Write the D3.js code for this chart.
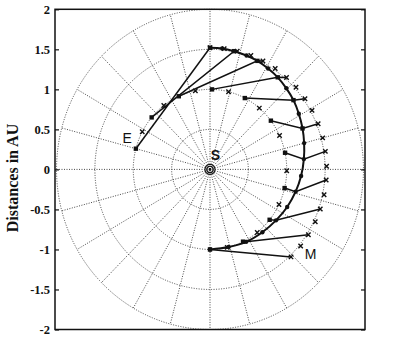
<!DOCTYPE html>
<html>
<head>
<meta charset="utf-8">
<script src="https://cdn.jsdelivr.net/npm/d3@7"></script>
<style>
    body { margin: 0; background: #fff; }
</style>
</head>
<body>
<div class="container"></div>
<script>
const width = 402;
const height = 350;
const box = { left: 55, right: 365, top: 9.3, bottom: 329.5 };

// ticks and polar grid
const yTicks = [-2, -1.5, -1, -0.5, 0, 0.5, 1, 1.5, 2];
const gridRadii = [0.5, 1, 1.5, 2];
const spokeAngles = d3.range(0, 360, 15);

// positions every half step (angles in degrees), from departure to arrival
const earthAng = [165, 152, 139.5, 127, 114, 101, 88.5, 76, 63, 50, 37.5, 25, 12, -1, -13.5, -26, -39, -52, -64.5, -77, -90];
const earthR = 1.0;
const marsAng = [90, 83, 76.5, 69.5, 63, 56, 49, 42.5, 35.5, 29, 22, 15, 8.5, 1.5, -5, -12, -19, -25.5, -32.5, -39, -46];
const marsR = 1.52;
const craftAng = [90, 84, 78, 71.5, 65.5, 59, 52.5, 45.5, 38.5, 31, 23, 15, 6, -4, -14, -25, -36.5, -49, -62.5, -76, -90];
const craftR = [1.52, 1.52, 1.51, 1.5, 1.49, 1.47, 1.45, 1.42, 1.39, 1.35, 1.31, 1.27, 1.23, 1.19, 1.15, 1.11, 1.07, 1.04, 1.02, 1.0, 1.0];

const labels = [
    { t: 'E', x: -1.08, y: 0.39 },
    { t: 'M', x: 1.31, y: -1.06 },
    { t: 'S', x: 0.07, y: 0.18 }
];

const serif = "'Liberation Serif', 'DejaVu Serif', serif";
const sans = "'Liberation Sans', Arial, sans-serif";

const xs = d3.scaleLinear().domain([-2.02, 2.02]).range([box.left, box.right]);
const ys = d3.scaleLinear().domain([-2, 2]).range([box.bottom, box.top]);

const rad = a => a * Math.PI / 180;
const polar = (a, r) => [xs(r * Math.cos(rad(a))), ys(r * Math.sin(rad(a)))];

const earth = earthAng.map(a => polar(a, earthR));
const mars = marsAng.map(a => polar(a, marsR));
const craft = craftAng.map((a, i) => polar(a, craftR[i]));

const svg = d3.select('.container')
    .append('svg')
    .attr('width', width)
    .attr('height', height);

// grid
const grid = svg.append('g')
    .attr('fill', 'none')
    .attr('stroke', '#333')
    .attr('stroke-width', 0.9)
    .attr('stroke-dasharray', '1,1.5');

grid.selectAll('ellipse')
    .data(gridRadii)
    .join('ellipse')
    .attr('cx', xs(0))
    .attr('cy', ys(0))
    .attr('rx', d => xs(d) - xs(0))
    .attr('ry', d => ys(0) - ys(d));

grid.selectAll('line')
    .data(spokeAngles)
    .join('line')
    .attr('x1', xs(0))
    .attr('y1', ys(0))
    .attr('x2', d => polar(d, 2)[0])
    .attr('y2', d => polar(d, 2)[1]);

// frame and y axis
svg.append('rect')
    .attr('x', box.left)
    .attr('y', box.top)
    .attr('width', box.right - box.left)
    .attr('height', box.bottom - box.top)
    .attr('fill', 'none')
    .attr('stroke', '#111')
    .attr('stroke-width', 1.5);

const yAxis = svg.append('g')
    .attr('transform', 'translate(' + box.left + ',0)')
    .call(d3.axisLeft(ys).tickValues(yTicks).tickSize(-4).tickPadding(5)
        .tickFormat(d => d));
yAxis.select('.domain').remove();
yAxis.selectAll('line').attr('stroke', '#111').attr('stroke-width', 1.2);
yAxis.selectAll('text')
    .attr('fill', '#111')
    .style('font-family', serif)
    .style('font-weight', 'bold')
    .style('font-size', '12.5px');

const yRight = svg.append('g')
    .attr('transform', 'translate(' + box.right + ',0)')
    .call(d3.axisRight(ys).tickValues(yTicks).tickSize(-4).tickFormat(''));
yRight.select('.domain').remove();
yRight.selectAll('line').attr('stroke', '#111').attr('stroke-width', 1.2);

svg.append('text')
    .attr('transform', 'translate(12,178) rotate(-90)')
    .attr('text-anchor', 'middle')
    .attr('dominant-baseline', 'central')
    .attr('fill', '#111')
    .style('font-family', serif)
    .style('font-weight', 'bold')
    .style('font-size', '16px')
    .text('Distances in AU');

// sight lines earth -> craft -> mars at every full step
const steps = d3.range(0, earthAng.length, 2);
svg.append('g')
    .selectAll('path')
    .data(steps)
    .join('path')
    .attr('d', i => d3.line()([earth[i], craft[i], mars[i]]))
    .attr('fill', 'none')
    .attr('stroke', '#111')
    .attr('stroke-width', 1.5);

// transfer orbit
svg.append('path')
    .attr('d', d3.line().curve(d3.curveCatmullRom)(craft))
    .attr('fill', 'none')
    .attr('stroke', '#111')
    .attr('stroke-width', 2);

// markers
const cross = (g, pts) => g.selectAll('path')
    .data(pts)
    .join('path')
    .attr('d', d => 'M' + (d[0] - 2.2) + ',' + (d[1] - 2.2) + 'l4.4,4.4m0,-4.4l-4.4,4.4')
    .attr('stroke', '#111')
    .attr('stroke-width', 1.4);

const square = (g, pts) => g.selectAll('rect')
    .data(pts)
    .join('rect')
    .attr('x', d => d[0] - 2.2)
    .attr('y', d => d[1] - 2.2)
    .attr('width', 4.4)
    .attr('height', 4.4)
    .attr('fill', '#111');

cross(svg.append('g'), mars);
cross(svg.append('g'), earth.filter((d, i) => i % 2));
square(svg.append('g'), earth.filter((d, i) => i % 2 === 0));
square(svg.append('g'), craft.filter((d, i) => i % 2 === 0 && i < 12));
svg.append('g')
    .selectAll('circle')
    .data(craft.filter((d, i) => i % 2 || i >= 12))
    .join('circle')
    .attr('cx', d => d[0])
    .attr('cy', d => d[1])
    .attr('r', 2.2)
    .attr('fill', '#111');

// sun
svg.append('g')
    .selectAll('circle')
    .data([5, 3.2])
    .join('circle')
    .attr('cx', xs(0))
    .attr('cy', ys(0))
    .attr('r', d => d)
    .attr('fill', 'none')
    .attr('stroke', '#111')
    .attr('stroke-width', 1.1);
svg.append('circle')
    .attr('cx', xs(0))
    .attr('cy', ys(0))
    .attr('r', 1.4)
    .attr('fill', '#111');

svg.append('g')
    .selectAll('text')
    .data(labels)
    .join('text')
    .attr('x', d => xs(d.x))
    .attr('y', d => ys(d.y))
    .attr('text-anchor', 'middle')
    .attr('dominant-baseline', 'central')
    .attr('fill', '#111')
    .style('font-family', sans)
    .style('font-size', '14px')
    .style('font-weight', d => d.t === 'S' ? 'bold' : 'normal')
    .text(d => d.t);
</script>
</body>
</html>
